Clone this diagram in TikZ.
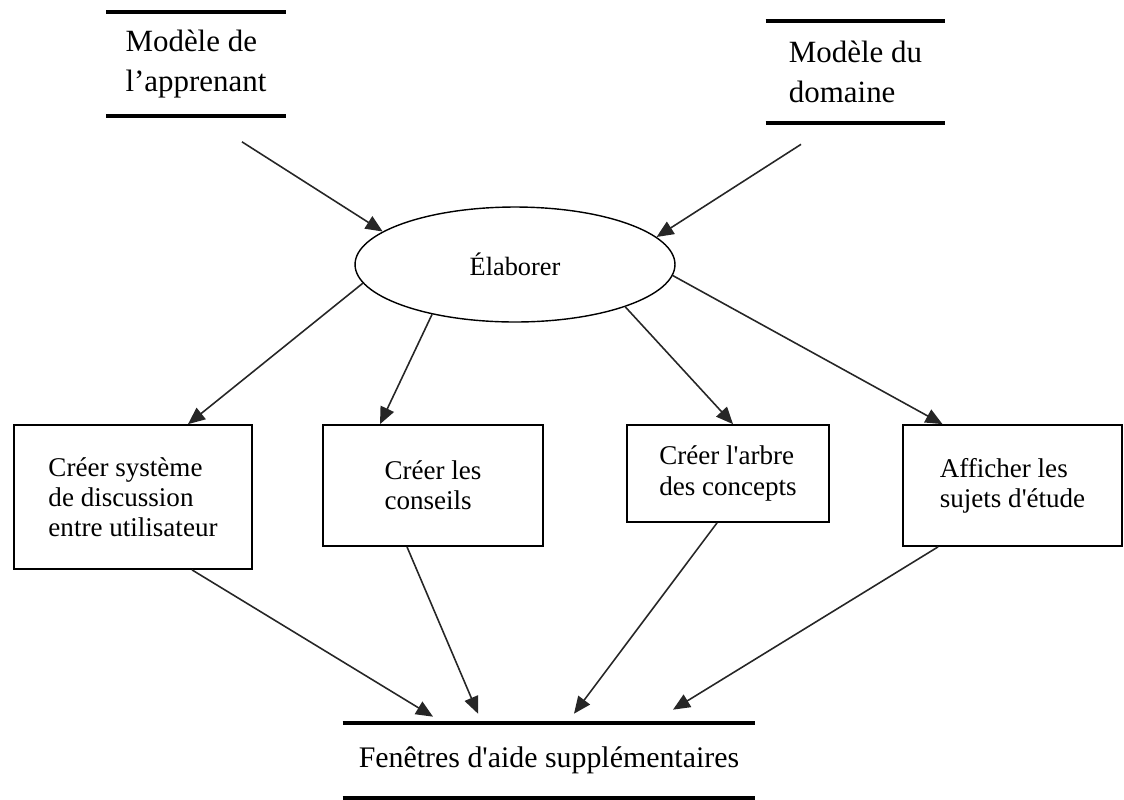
\documentclass[tikz,border=0pt]{standalone}
\usepackage{fontspec}
\setmainfont{Liberation Serif}[Ligatures=TeXOff]
\usetikzlibrary{arrows.meta,shapes.geometric}
\tikzset{
  store/.style={minimum width=3.58cm, minimum height=2.06cm, align=left, inner sep=0pt,
               font=\fontsize{17.6}{23}\selectfont},
  storeline/.style={line width=2.2pt},
  task/.style={draw, line width=1pt, align=left, inner sep=0pt, font=\fontsize{15.4}{17.2}\selectfont},
  proc/.style={draw, ellipse, line width=0.8pt, minimum width=6.4cm, minimum height=2.3cm,
               inner sep=0pt, font=\fontsize{15}{17}\selectfont},
  flow/.style={-{Triangle[length=0.34cm,width=0.29cm]}, line width=0.9pt, draw=black!85},
}
\newcommand{\storelines}[1]{%
  \draw[storeline] (#1.north west) -- (#1.north east) (#1.south west) -- (#1.south east);}

\begin{document}
\begin{tikzpicture}[x=0.02cm, y=-0.02cm]
  \useasboundingbox (0,0) rectangle (1124,799);
  % data stores on top
  \node[store] (app) at (196,64) {Modèle de\\l’apprenant};
  \node[store, minimum height=2.04cm] (dom) at (855.5,72) {Modèle du\\domaine};
  \storelines{app} \storelines{dom}
  \node[proc] (elab) at (515,264.5) {Élaborer};
  % tasks
  \node[task, minimum width=4.76cm, minimum height=2.88cm] (discu) at (133,497) {Créer système\\de discussion\\entre utilisateur};
  \node[task, minimum width=4.4cm, minimum height=2.42cm] (cons) at (433,485.5) {Créer les\\conseils};
  \node[task, minimum width=4.04cm, minimum height=1.94cm] (arbre) at (728,473.5) {Créer l'arbre\\des concepts};
  \node[task, minimum width=4.38cm, minimum height=2.42cm] (sujet) at (1012.5,485.5) {Afficher les\\sujets d'étude};
  \node[store, minimum width=8.24cm, minimum height=1.5cm, font=\fontsize{17}{20}\selectfont] (fen) at (549,760.5) {Fenêtres d'aide supplémentaires};
  \storelines{fen}
  \draw[flow] ([xshift=0.92cm,yshift=-0.52cm]app.south) -- (elab.166);
  \draw[flow] ([xshift=-1.09cm,yshift=-0.42cm]dom.south) -- (elab.11);
  \draw[flow] (elab.187) -- ([xshift=1.1cm]discu.north);
  \draw[flow] (elab.211) -- ([xshift=-1.06cm]cons.north);
  \draw[flow] (elab.339) -- ([xshift=0.1cm]arbre.north);
  \draw[flow] (elab.356) -- ([xshift=-1.4cm]sujet.north);
  \draw[flow] ([xshift=1.18cm]discu.south) -- ([xshift=-2.32cm,yshift=0.12cm]fen.north);
  \draw[flow] ([xshift=-0.52cm]cons.south) -- ([xshift=-1.42cm,yshift=0.18cm]fen.north);
  \draw[flow] ([xshift=-0.22cm]arbre.south) -- ([xshift=0.5cm,yshift=0.18cm]fen.north);
  \draw[flow] ([xshift=-1.49cm]sujet.south) -- ([xshift=2.48cm,yshift=0.26cm]fen.north);
\end{tikzpicture}
\end{document}
